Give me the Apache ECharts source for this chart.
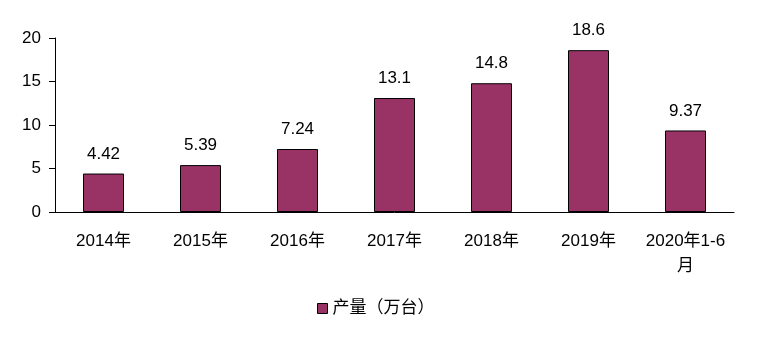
<!DOCTYPE html>
<html>
<head>
<meta charset="utf-8">
<script src="https://cdn.jsdelivr.net/npm/echarts@6/dist/echarts.min.js"></script>
<style>
  html, body { margin: 0; padding: 0; background: #fff; }
  #chart { width: 761px; height: 339px; }
</style>
</head>
<body>
<div id="chart"></div>
<script>
// Annual output, 10k units
const categories = ['2014年', '2015年', '2016年', '2017年', '2018年', '2019年', '2020年1-6月'];
const output = [4.42, 5.39, 7.24, 13.1, 14.8, 18.6, 9.37];
const seriesName = '产量（万台）';

const font = 'Arial, "Liberation Sans", "Noto Sans CJK SC", sans-serif';
const chart = echarts.init(document.getElementById('chart'), null, { renderer: 'canvas' });

chart.setOption({
  animation: false,
  backgroundColor: '#ffffff',
  textStyle: { fontFamily: font },
  grid: { left: 55, right: 27, top: 38, bottom: 127 },
  legend: {
    bottom: 17,
    left: 312,
    itemWidth: 10,
    itemHeight: 10,
    itemGap: 10,
    icon: 'rect',
    textStyle: { fontSize: 17, color: '#000', fontFamily: font },
    data: [{ name: seriesName, itemStyle: { borderColor: '#000', borderWidth: 1 } }]
  },
  xAxis: {
    type: 'category',
    data: categories,
    axisLine: { lineStyle: { color: '#000', width: 1 } },
    axisTick: { inside: true, length: 5, lineStyle: { color: '#000' } },
    axisLabel: {
      fontSize: 17,
      color: '#000',
      margin: 17,
      lineHeight: 25,
      width: 86,
      overflow: 'break',
      interval: 0
    }
  },
  yAxis: {
    type: 'value',
    min: 0,
    max: 20,
    interval: 5,
    axisLine: { show: true, lineStyle: { color: '#000', width: 1 } },
    axisTick: { show: true, length: 6, lineStyle: { color: '#000' } },
    axisLabel: { fontSize: 17, color: '#000', margin: 14 },
    splitLine: { show: false }
  },
  series: [{
    name: seriesName,
    type: 'bar',
    data: output,
    barWidth: 41,
    itemStyle: { color: '#993366', borderColor: '#000', borderWidth: 1 },
    label: {
      show: true,
      position: 'top',
      distance: 11,
      fontSize: 17,
      color: '#000',
      fontFamily: font
    }
  }]
});
</script>
</body>
</html>
